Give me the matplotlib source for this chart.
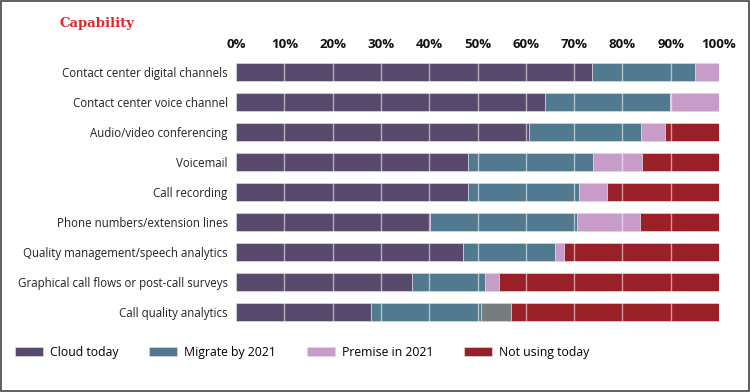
import matplotlib.pyplot as plt
from matplotlib.patches import Rectangle
import numpy as np

categories = [
    "Contact center digital channels",
    "Contact center voice channel",
    "Audio/video conferencing",
    "Voicemail",
    "Call recording",
    "Phone numbers/extension lines",
    "Quality management/speech analytics",
    "Graphical call flows or post-call surveys",
    "Call quality analytics",
]
cloud_today = [73.8, 64.0, 60.6, 48.0, 48.1, 40.2, 46.9, 36.5, 28.0]
migrate_2021 = [21.2, 25.9, 23.2, 26.0, 23.0, 30.3, 19.1, 15.1, 22.7]
premise_2021 = [5.0, 10.1, 5.1, 10.0, 5.8, 13.2, 1.9, 2.9, 0.0]
other = [0.0, 0.0, 0.0, 0.0, 0.0, 0.0, 0.0, 0.0, 6.3]
not_using = [0.0, 0.0, 11.1, 16.0, 23.1, 16.3, 32.1, 45.5, 43.0]

series = [
    ("Cloud today", cloud_today, "#574a6d"),
    ("Migrate by 2021", migrate_2021, "#517990"),
    ("Premise in 2021", premise_2021, "#c79cc8"),
    (None, other, "#777c7f"),
    ("Not using today", not_using, "#9a2027"),
]

fig = plt.figure(figsize=(7.5, 3.92), dpi=100)
ax = fig.add_axes([0.3147, 0.166, 0.644, 0.689])

y = np.arange(len(categories))
left = np.zeros(len(categories))
handles = []
labels = []
for name, vals, col in series:
    vals = np.array(vals)
    bars = ax.barh(y, vals, left=left, height=0.6, color=col,
                   edgecolor="#ddd6e4", linewidth=0.5, zorder=2)
    left += vals
    if name:
        handles.append(bars)
        labels.append(name)

# white gridlines drawn over the bars
for g in range(10, 100, 10):
    ax.axvline(g, color="white", alpha=0.55, linewidth=1, zorder=3)

ax.set_xlim(0, 100)
ax.set_ylim(len(categories) - 0.5, -0.5)
ax.set_yticks(y)
ax.set_yticklabels(categories, fontfamily="Open Sans", fontsize=8.3, color="#222222")
ax.set_xticks(range(0, 101, 10))
ax.set_xticklabels([f"{t}%" for t in range(0, 101, 10)],
                   fontfamily="Open Sans", fontweight="bold", fontsize=9.5, color="#111111")
ax.xaxis.tick_top()
ax.tick_params(axis="both", length=0)
ax.tick_params(axis="x", pad=4.5)
ax.tick_params(axis="y", pad=6)
for s in ax.spines.values():
    s.set_visible(False)

fig.text(0.08, 0.94, "Capability", color="#e0262b",
         family=["DejaVu Serif Condensed", "DejaVu Serif"],
         fontweight="bold", fontsize=9.5, va="center")

leg = fig.legend(handles, labels, loc="center left", bbox_to_anchor=(0.02, 0.102),
                 ncol=4, frameon=False, handlelength=2.3, handleheight=0.75,
                 handletextpad=0.57, columnspacing=2.5, borderpad=0, borderaxespad=0,
                 prop={"family": "Open Sans", "size": 8.8})

fig.patches.append(Rectangle((0.001, 0.002), 0.997, 0.996, transform=fig.transFigure,
                             fill=False, edgecolor="#444444", linewidth=1.2))

fig.savefig("out.png", dpi=100)
